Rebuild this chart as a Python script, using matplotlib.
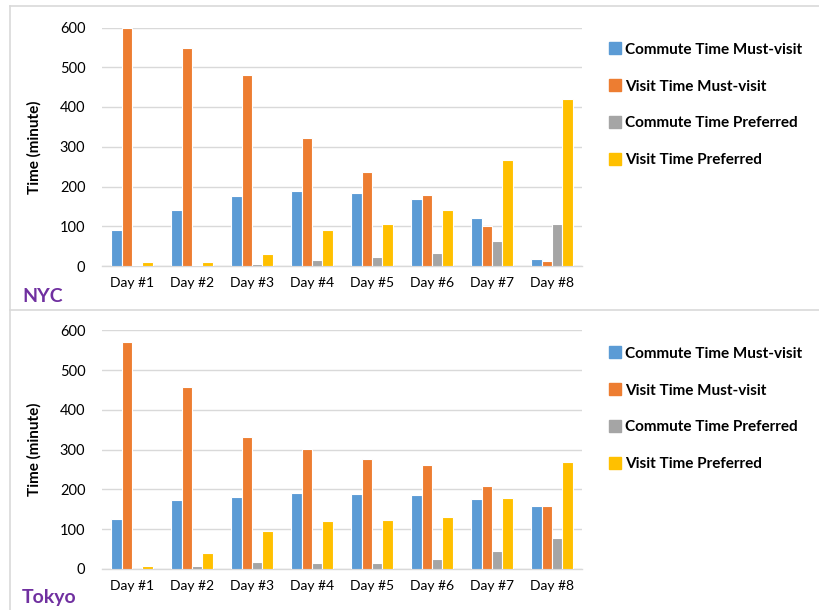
import numpy as np
import matplotlib
matplotlib.use("Agg")
import matplotlib.pyplot as plt
from matplotlib.lines import Line2D

plt.rcParams['font.family'] = ['Lato', 'DejaVu Sans']

# Categories and series
days = ["Day #1", "Day #2", "Day #3", "Day #4", "Day #5", "Day #6", "Day #7", "Day #8"]
series_names = ["Commute Time Must-visit", "Visit Time Must-visit",
                "Commute Time Preferred", "Visit Time Preferred"]
series_colors = ["#5B9BD5", "#ED7D31", "#A5A5A5", "#FFC000"]

# NYC (minutes)
nyc_commute_must = [90, 141, 176, 189, 184, 168, 121, 17]
nyc_visit_must = [600, 548, 480, 322, 237, 178, 100, 12]
nyc_commute_pref = [2, 2, 5, 14, 22, 33, 63, 106]
nyc_visit_pref = [9, 10, 30, 90, 106, 141, 266, 420]

# Tokyo (minutes)
tokyo_commute_must = [125, 173, 181, 191, 189, 186, 175, 158]
tokyo_visit_must = [571, 458, 332, 302, 277, 261, 209, 159]
tokyo_commute_pref = [0, 8, 18, 14, 14, 26, 45, 78]
tokyo_visit_pref = [8, 40, 95, 121, 123, 130, 178, 268]

W, H = 819, 610
fig = plt.figure(figsize=(W / 100, H / 100), dpi=100)

FRAME = "#D9D9D9"
PURPLE = "#7030A0"


def px_axes(x0, y_top, x1, y_bot):
    # axes rectangle given in pixel coordinates (origin top-left)
    return fig.add_axes([x0 / W, 1 - y_bot / H, (x1 - x0) / W, (y_bot - y_top) / H])


def draw_panel(ax, data, city, leg_top, city_y):
    x = np.arange(len(days))
    width = 0.171
    offsets = (np.arange(4) - 1.5) * width
    for vals, name, col, off in zip(data, series_names, series_colors, offsets):
        ax.bar(x + off, vals, width, color=col, edgecolor="white", linewidth=0.8,
               label=name, zorder=3)
    ax.set_xlim(-0.5, len(days) - 0.5)
    ax.set_ylim(0, 600)
    ax.set_yticks(range(0, 601, 100))
    ax.set_xticks(x)
    ax.set_xticklabels(days, fontsize=10, color="#000000")
    ax.tick_params(axis="y", labelsize=10.5, length=0, pad=12)
    ax.tick_params(axis="x", length=0, pad=8)
    ax.grid(axis="y", color=FRAME, linewidth=1, zorder=0)
    for s in ["top", "right", "left"]:
        ax.spines[s].set_visible(False)
    ax.spines["bottom"].set_color(FRAME)
    ax.spines["bottom"].set_linewidth(1)
    ax.set_ylabel("Time (minute)", fontsize=11, fontweight="bold", labelpad=13)

    handles = [Line2D([], [], marker="s", linestyle="none", markersize=8.5,
                      markerfacecolor=c, markeredgecolor=c) for c in series_colors]
    fig.legend(handles, series_names, loc="upper left",
               bbox_to_anchor=(603 / W, 1 - leg_top / H), frameon=False,
               prop={"weight": "bold", "size": 11}, handlelength=0.6,
               handletextpad=0.35, labelspacing=1.5, borderpad=0)
    fig.text(22 / W, 1 - city_y / H, city, color=PURPLE, fontsize=14,
             fontweight="bold", va="center", ha="left")


ax_nyc = px_axes(102, 27.5, 582, 266)
draw_panel(ax_nyc, [nyc_commute_must, nyc_visit_must, nyc_commute_pref, nyc_visit_pref],
           "NYC", 35, 297)

ax_tokyo = px_axes(102, 330.3, 582, 569)
draw_panel(ax_tokyo, [tokyo_commute_must, tokyo_visit_must, tokyo_commute_pref,
                      tokyo_visit_pref], "Tokyo", 339, 597)

# panel frames
for y in (6, 310):
    fig.add_artist(Line2D([10 / W, 1], [1 - y / H, 1 - y / H], color=FRAME, linewidth=1.2))
fig.add_artist(Line2D([10 / W, 10 / W], [1 - 6 / H, 0], color=FRAME, linewidth=1.2))

fig.savefig("out.png", dpi=100)
